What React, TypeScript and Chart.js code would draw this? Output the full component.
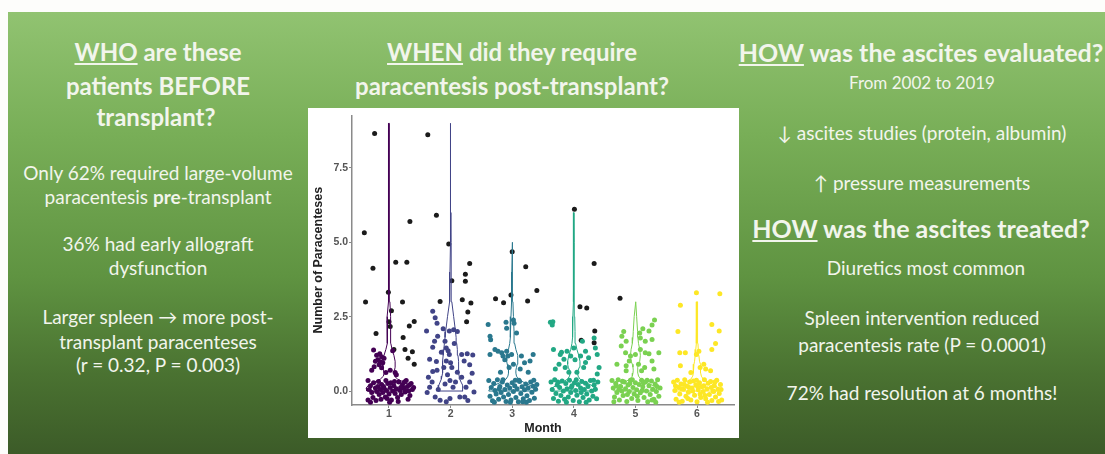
import React, { useEffect, useRef } from "react";
import { Chart, registerables } from "chart.js";

Chart.register(...registerables);

// ---------- data ----------
const MONTHS = [1, 2, 3, 4, 5, 6];
const MONTH_COLORS = ["#440154", "#414487", "#2A788E", "#22A884", "#7AD151", "#FDE725"];
const Y_TICKS = [0, 2.5, 5, 7.5];
const Y_TICK_LABELS = ["0.0", "2.5", "5.0", "7.5"];

// violin profile: y levels and half widths (x units) per month
const VIOLIN_Y = [0, 0.1, 0.2, 0.3, 0.4, 0.5, 0.6, 0.7, 0.8, 0.9, 1.0, 1.2, 1.4, 1.6, 1.8, 2.0, 2.5, 3, 3.5, 4, 5, 6, 7, 8, 9];
const VIOLIN_W1 = [0.36, 0.37, 0.33, 0.24, 0.14, 0.09, 0.08, 0.09, 0.1, 0.1, 0.1, 0.08, 0.05, 0.03, 0.025, 0.025, 0.03, 0.015, 0.01, 0.008, 0.006, 0.005, 0.005, 0.005, 0.003];
const VIOLIN_W2 = [0.2, 0.2, 0.19, 0.17, 0.15, 0.14, 0.13, 0.13, 0.13, 0.13, 0.13, 0.12, 0.11, 0.1, 0.09, 0.08, 0.05, 0.02, 0.012, 0.01, 0.007, 0.005, 0.004, 0.004, 0.003];
const VIOLIN_W3 = [0.38, 0.36, 0.28, 0.18, 0.1, 0.07, 0.06, 0.06, 0.07, 0.08, 0.09, 0.09, 0.06, 0.04, 0.03, 0.03, 0.02, 0.012, 0.008, 0.006, 0.003];
const VIOLIN_W4 = [0.36, 0.35, 0.28, 0.18, 0.1, 0.07, 0.06, 0.07, 0.09, 0.1, 0.1, 0.08, 0.05, 0.03, 0.02, 0.02, 0.015, 0.01, 0.008, 0.006, 0.004, 0.003];
const VIOLIN_W5 = [0.35, 0.34, 0.27, 0.17, 0.09, 0.05, 0.04, 0.035, 0.04, 0.05, 0.07, 0.08, 0.07, 0.05, 0.04, 0.035, 0.02, 0.005];
const VIOLIN_W6 = [0.36, 0.35, 0.28, 0.18, 0.1, 0.07, 0.06, 0.06, 0.06, 0.05, 0.04, 0.03, 0.02, 0.015, 0.012, 0.01, 0.008, 0.004];
const VIOLIN_WIDTHS = [VIOLIN_W1, VIOLIN_W2, VIOLIN_W3, VIOLIN_W4, VIOLIN_W5, VIOLIN_W6];

// jittered points [month + jitter, paracenteses + jitter]
const M1_POINTS = [
  [0.75, 1.38], [0.8, 1.2], [0.85, 1.25], [0.88, 1.15], [0.82, 1.05], [0.78, 1.0], [0.86, 0.98], [0.9, 0.95], [0.84, 0.88],
  [0.76, 0.82], [0.88, 0.78], [0.92, 1.1], [0.72, 0.7], [0.95, 0.62], [1.06, 1.35], [1.1, 0.62], [1.12, 0.55], [1.02, 0.7],
  [0.66, 0.35], [0.7, 0.18], [0.68, 0.05], [0.72, -0.05], [0.66, -0.3], [0.7, -0.38], [0.75, 0.28], [0.78, 0.1], [0.8, -0.02],
  [0.82, 0.15], [0.84, -0.12], [0.86, 0.05], [0.88, 0.22], [0.9, -0.05], [0.92, 0.1], [0.94, -0.2], [0.96, 0.02], [0.98, 0.25],
  [1.0, -0.1], [1.02, 0.12], [1.04, -0.3], [1.06, 0.0], [1.08, 0.18], [1.1, -0.08], [1.12, 0.08], [1.14, -0.22], [1.16, 0.3],
  [1.18, 0.02], [1.2, -0.12], [1.22, 0.22], [1.24, 0.1], [1.26, -0.03], [1.28, 0.35], [1.3, 0.15], [1.32, 0.0], [1.34, -0.15],
  [1.36, 0.25], [1.38, 0.05], [1.4, 0.12], [0.74, -0.22], [0.79, -0.32], [0.87, -0.28], [0.95, 0.35], [1.01, -0.38], [1.09, 0.32],
  [1.15, -0.35], [1.25, 0.3], [1.31, -0.28], [0.83, 0.32], [0.91, 0.15], [0.97, -0.25], [1.03, 0.28], [1.19, 0.12], [1.27, 0.02], [1.33, 0.2],
];
const M2_POINTS = [
  [1.71, 2.68], [1.75, 2.46], [1.78, 2.28], [1.61, 2.02], [1.88, 2.09], [1.98, 2.02], [2.05, 2.06], [2.11, 2.0], [1.79, 1.84],
  [1.74, 1.67], [1.71, 1.47], [1.91, 1.67], [1.93, 1.45], [1.98, 1.23], [1.93, 1.01], [2.18, 1.23], [2.27, 1.25], [2.36, 1.21],
  [2.22, 1.01], [2.31, 0.88], [1.66, 1.07], [1.77, 0.99], [1.71, 0.66], [1.78, 0.7], [1.89, 0.79], [2.02, 0.79], [1.99, 0.35],
  [1.91, 0.24], [2.04, 0.13], [1.64, 0.46], [1.66, 0.13], [1.75, -0.2], [1.83, -0.31], [1.93, -0.36], [1.99, -0.25], [2.18, 0.46],
  [2.25, 0.13], [2.31, 0.3], [2.23, -0.2], [2.38, -0.03], [2.11, 0.63], [2.15, -0.2], [1.96, 1.35], [2.0, 0.95], [1.85, 1.3],
  [1.7, 0.3], [1.8, 0.05], [2.08, 0.3], [2.28, -0.32], [1.95, 0.55], [2.06, 1.6], [1.62, -0.05], [2.35, 0.6],
];
const M3_POINTS = [
  [2.61, 2.24], [2.64, 1.84], [2.65, 1.72], [2.9, 2.31], [3.02, 2.39], [3.03, 2.28], [2.91, 2.11], [3.07, 1.95], [2.72, 1.4],
  [2.77, 1.34], [2.83, 1.29], [2.91, 1.34], [2.85, 1.18], [2.93, 1.18], [2.99, 1.23], [3.15, 1.18], [3.34, 1.23], [3.29, 1.01],
  [2.64, 1.23], [3.02, 0.9], [3.13, 0.74], [2.95, 0.79], [2.81, 0.63], [3.26, 0.63], [2.88, 1.05], [3.2, 0.95],
  [2.62, 0.35], [2.66, 0.12], [2.64, -0.18], [2.68, -0.33], [2.7, 0.25], [2.72, 0.02], [2.74, -0.1], [2.76, 0.38], [2.78, -0.28],
  [2.8, 0.15], [2.82, -0.05], [2.84, 0.3], [2.86, -0.2], [2.88, 0.05], [2.9, -0.35], [2.92, 0.2], [2.94, -0.12], [2.96, 0.1],
  [2.98, -0.3], [3.0, 0.28], [3.02, -0.02], [3.04, 0.18], [3.06, -0.22], [3.08, 0.08], [3.1, -0.36], [3.12, 0.32], [3.14, -0.08],
  [3.16, 0.14], [3.18, -0.26], [3.2, 0.04], [3.22, 0.24], [3.24, -0.16], [3.26, 0.1], [3.28, -0.32], [3.3, 0.3], [3.32, -0.04],
  [3.34, 0.16], [3.36, -0.24], [3.38, 0.06], [3.4, 0.22], [2.71, -0.38], [2.85, 0.38], [2.97, -0.38], [3.11, 0.36], [3.23, -0.38],
  [3.35, 0.36], [2.79, 0.08], [3.05, 0.36], [3.17, -0.36],
];
const M4_POINTS = [
  [3.62, 2.31], [3.66, 2.33], [3.65, 2.22], [4.14, 1.67], [4.33, 1.78], [4.35, 1.45], [4.38, 1.23], [3.67, 1.4], [3.78, 1.23],
  [3.84, 1.07], [3.89, 1.34], [3.95, 1.18], [4.0, 1.45], [4.11, 1.18], [4.19, 1.34], [4.24, 1.12], [3.76, 0.9], [3.7, 0.74],
  [3.86, 0.79], [3.92, 0.63], [4.16, 0.79], [4.05, 0.63], [4.19, 0.96], [4.38, 0.57], [4.41, 0.79], [3.8, 1.3], [4.02, 1.05],
  [3.63, 0.3], [3.65, 0.05], [3.67, -0.25], [3.69, 0.38], [3.71, -0.08], [3.73, 0.2], [3.75, -0.34], [3.77, 0.12], [3.79, -0.15],
  [3.81, 0.34], [3.83, 0.0], [3.85, -0.28], [3.87, 0.25], [3.89, 0.08], [3.91, -0.2], [3.93, 0.36], [3.95, -0.05], [3.97, 0.18],
  [3.99, -0.32], [4.01, 0.28], [4.03, 0.02], [4.05, -0.14], [4.07, 0.22], [4.09, -0.36], [4.11, 0.1], [4.13, 0.32], [4.15, -0.22],
  [4.17, 0.05], [4.19, 0.26], [4.21, -0.1], [4.23, 0.15], [4.25, -0.3], [4.27, 0.35], [4.29, 0.0], [4.31, -0.18], [4.33, 0.2],
  [4.35, 0.06], [4.37, -0.26], [4.39, 0.3], [3.74, 0.3], [3.88, -0.38], [4.04, 0.38], [4.2, -0.38], [4.32, 0.36], [3.96, 0.12], [4.12, -0.05],
];
const M5_POINTS = [
  [5.31, 2.39], [5.27, 2.22], [5.22, 2.02], [5.12, 2.09], [5.07, 1.95], [5.08, 1.78], [5.16, 1.67], [5.27, 1.73], [4.81, 2.0],
  [4.78, 1.84], [4.85, 1.67], [4.77, 1.51], [4.84, 1.29], [4.92, 1.18], [5.0, 1.23], [5.08, 1.4], [5.16, 1.29], [5.22, 1.25],
  [5.38, 1.29], [4.7, 0.9], [4.85, 0.85], [4.9, 1.01], [4.85, 0.68], [5.05, 0.9], [5.15, 0.79], [5.1, 0.68], [5.27, 1.01], [5.3, 0.74],
  [4.62, 0.35], [4.64, 0.1], [4.66, -0.2], [4.68, 0.25], [4.7, -0.05], [4.72, 0.38], [4.74, -0.3], [4.76, 0.15], [4.78, 0.0],
  [4.8, -0.15], [4.82, 0.3], [4.84, 0.08], [4.86, -0.35], [4.88, 0.2], [4.9, -0.02], [4.92, 0.36], [4.94, -0.25], [4.96, 0.12],
  [4.98, -0.1], [5.0, 0.28], [5.02, 0.04], [5.04, -0.32], [5.06, 0.22], [5.08, -0.06], [5.1, 0.36], [5.12, 0.14], [5.14, -0.22],
  [5.16, 0.3], [5.18, 0.0], [5.2, -0.36], [5.22, 0.18], [5.24, -0.12], [5.26, 0.34], [5.28, 0.06], [5.3, -0.28], [5.32, 0.24],
  [5.34, -0.02], [5.36, 0.38], [5.38, -0.18], [5.4, 0.1], [4.65, -0.36], [4.73, 0.05], [4.79, 0.33], [4.87, -0.12], [4.95, 0.38],
  [5.03, -0.18], [5.11, 0.02], [5.19, 0.36], [5.27, -0.3], [5.35, 0.15], [4.69, 0.18], [4.91, 0.25], [5.13, 0.28], [5.33, -0.38],
];
const M6_POINTS = [
  [5.99, 3.3], [5.73, 2.88], [6.37, 3.27], [5.69, 2.0], [6.24, 2.24], [6.36, 2.02], [6.24, 1.4], [5.72, 1.29], [5.81, 1.29],
  [5.99, 1.23], [6.03, 1.34], [5.73, 0.85], [6.05, 0.79], [6.14, 0.74], [6.22, 0.68], [6.11, 0.9], [6.3, 1.6], [5.9, 0.62],
  [5.62, 0.3], [5.64, 0.02], [5.66, -0.28], [5.68, 0.36], [5.7, 0.12], [5.72, -0.1], [5.74, 0.24], [5.76, -0.34], [5.78, 0.06],
  [5.8, 0.38], [5.82, -0.18], [5.84, 0.16], [5.86, -0.04], [5.88, 0.3], [5.9, -0.3], [5.92, 0.1], [5.94, 0.34], [5.96, -0.14],
  [5.98, 0.2], [6.0, -0.36], [6.02, 0.04], [6.04, 0.28], [6.06, -0.22], [6.08, 0.14], [6.1, -0.02], [6.12, 0.38], [6.14, -0.26],
  [6.16, 0.08], [6.18, 0.26], [6.2, -0.12], [6.22, 0.32], [6.24, -0.32], [6.26, 0.0], [6.28, 0.18], [6.3, -0.2], [6.32, 0.36],
  [6.34, 0.06], [6.36, -0.08], [6.38, 0.22], [6.4, -0.3], [5.65, 0.18], [5.71, -0.38], [5.79, 0.22], [5.85, -0.25], [5.93, 0.0],
  [5.99, 0.36], [6.05, -0.1], [6.11, 0.18], [6.17, -0.38], [6.23, 0.12], [6.29, 0.3], [6.35, -0.35], [5.75, 0.08], [5.87, 0.12],
  [6.01, 0.15], [6.13, -0.15], [6.27, -0.02], [6.39, 0.05],
];
const MONTH_POINTS = [M1_POINTS, M2_POINTS, M3_POINTS, M4_POINTS, M5_POINTS, M6_POINTS];

// outlying points (drawn black)
const OUTLIER_POINTS = [
  [0.767, 8.66], [0.6, 5.32], [0.74, 4.13], [0.62, 2.99], [0.79, 1.93], [1.11, 4.33], [1.29, 4.33], [1.34, 5.7], [1.22, 2.99],
  [1.41, 2.34], [1.33, 2.19], [1.23, 1.8], [0.99, 3.32], [1.04, 2.7], [1.0, 2.33], [1.02, 2.17], [1.26, 1.4], [1.38, 1.32],
  [1.41, 0.9], [1.31, 1.1], [1.08, 1.4],
  [1.63, 8.62], [1.77, 5.91], [1.97, 4.94], [2.02, 3.71], [2.31, 4.29], [2.24, 3.93], [2.24, 3.69], [1.83, 3.01], [2.19, 3.07],
  [2.33, 2.96], [2.28, 2.66], [2.26, 2.33],
  [3.0, 4.68], [3.22, 4.18], [3.4, 3.38], [3.25, 3.03], [2.73, 3.1], [2.86, 2.97], [2.98, 3.23],
  [4.01, 6.11], [4.33, 4.29], [4.1, 2.83], [4.21, 2.79], [4.12, 1.71], [4.34, 2.02], [4.33, 1.62],
  [4.75, 3.12],
];

// ---------- text ----------
const LEFT_HEAD = ["are these", "patients BEFORE", "transplant?"];
const LEFT_BODY = [
  "Only 62% required large-volume",
  "36% had early allograft",
  "dysfunction",
  "Larger spleen \u2192 more post-",
  "transplant paracenteses",
  "(r = 0.32, P = 0.003)",
];

const FONT = "Lato, 'Open Sans', sans-serif";
const TXT = "#f2f5ec";
const AXIS_FONT = "'Liberation Sans', Arial, sans-serif";

function T(props: { cx: number; cy: number; size: number; bold?: boolean; children: any }) {
  const { cx, cy, size, bold, children } = props;
  return (
    <div
      style={{
        position: "absolute",
        left: cx - 300,
        width: 600,
        top: cy - size * 0.62,
        lineHeight: `${Math.round(size * 1.24)}px`,
        fontSize: size,
        fontWeight: bold ? 700 : 400,
        textAlign: "center",
        whiteSpace: "nowrap",
        color: TXT,
        fontFamily: FONT,
      }}
    >
      {children}
    </div>
  );
}

function ViolinChart() {
  const ref = useRef<HTMLCanvasElement | null>(null);
  useEffect(() => {
    if (!ref.current) return;
    const datasets: any[] = [];
    MONTHS.forEach((m, i) => {
      const w = VIOLIN_WIDTHS[i];
      const right = w.map((wi, k) => ({ x: m + wi, y: VIOLIN_Y[k] }));
      const left = w.map((wi, k) => ({ x: m - wi, y: VIOLIN_Y[k] })).reverse();
      datasets.push({
        type: "scatter",
        data: [...right, ...left, right[0]],
        showLine: true,
        borderColor: MONTH_COLORS[i],
        borderWidth: 1,
        pointRadius: 0,
        fill: false,
        tension: 0,
      });
    });
    MONTHS.forEach((m, i) => {
      datasets.push({
        type: "scatter",
        data: MONTH_POINTS[i].map(([x, y]) => ({ x, y })),
        backgroundColor: MONTH_COLORS[i],
        borderWidth: 0,
        pointRadius: 2.5,
      });
    });
    datasets.push({
      type: "scatter",
      data: OUTLIER_POINTS.map(([x, y]) => ({ x, y })),
      backgroundColor: "#1b1b1b",
      borderWidth: 0,
      pointRadius: 2.5,
    });

    const chart = new Chart(ref.current, {
      type: "scatter",
      data: { datasets },
      options: {
        animation: false,
        responsive: false,
        events: [],
        layout: { padding: { top: 2, right: 5, left: 0, bottom: 0 } },
        plugins: { legend: { display: false }, tooltip: { enabled: false } },
        scales: {
          x: {
            type: "linear",
            min: 0.4,
            max: 6.6,
            afterFit: (s: any) => {
              s.height = 33;
            },
            afterBuildTicks: (s: any) => {
              s.ticks = MONTHS.map((v) => ({ value: v }));
            },
            ticks: {
              callback: (v: any) => String(v),
              color: "#555",
              padding: 0,
              maxRotation: 0,
              font: { family: AXIS_FONT, size: 10.5, weight: "bold" },
            },
            grid: { drawOnChartArea: false, drawTicks: true, tickLength: 3, color: "#888", lineWidth: 1 },
            border: { display: true, color: "#8a8a8a", width: 1.5 },
            title: {
              display: true,
              text: "Month",
              color: "#222",
              padding: { top: 0, bottom: 2 },
              font: { family: AXIS_FONT, size: 12.5, weight: "bold" },
            },
          },
          y: {
            type: "linear",
            min: -0.47,
            max: 9.27,
            afterFit: (s: any) => {
              s.width = 44;
            },
            afterBuildTicks: (s: any) => {
              s.ticks = Y_TICKS.map((v) => ({ value: v }));
            },
            ticks: {
              callback: (v: any) => Y_TICK_LABELS[Y_TICKS.indexOf(v)] ?? "",
              color: "#555",
              padding: 1,
              font: { family: AXIS_FONT, size: 10.5, weight: "bold" },
            },
            grid: { drawOnChartArea: false, drawTicks: true, tickLength: 3, color: "#888", lineWidth: 1 },
            border: { display: true, color: "#8a8a8a", width: 1.5 },
            title: {
              display: true,
              text: "Number of Paracenteses",
              color: "#222",
              padding: { top: 3, bottom: 0 },
              font: { family: AXIS_FONT, size: 12.5, weight: "bold" },
            },
          },
        },
      } as any,
    });
    return () => chart.destroy();
  }, []);
  return <canvas ref={ref} width={431} height={330} style={{ display: "block" }} />;
}

export default function App() {
  return (
    <div
      style={{
        position: "absolute",
        left: 0,
        top: 0,
        width: 1105,
        height: 454,
        overflow: "hidden",
        background: "#fdfdfb",
      }}
    >
      <div
        style={{
          position: "absolute",
          left: 8,
          top: 12,
          width: 1097,
          height: 442,
          background: "linear-gradient(180deg, #91c371 0%, #78ae57 28%, #5f9341 60%, #4a7231 82%, #3c5b28 100%)",
        }}
      />
      {/* left column */}
      <T cx={158} cy={52} size={24} bold>
        <span style={{ textDecoration: "underline" }}>WHO</span> {LEFT_HEAD[0]}
      </T>
      <T cx={158} cy={86} size={24} bold>{LEFT_HEAD[1]}</T>
      <T cx={156} cy={117} size={24} bold>{LEFT_HEAD[2]}</T>
      <T cx={158} cy={173} size={19}>{LEFT_BODY[0]}</T>
      <T cx={158} cy={197} size={19}>
        paracentesis <b>pre</b>-transplant
      </T>
      <T cx={158} cy={244} size={19}>{LEFT_BODY[1]}</T>
      <T cx={158} cy={268} size={19}>{LEFT_BODY[2]}</T>
      <T cx={158} cy={317} size={19}>{LEFT_BODY[3]}</T>
      <T cx={158} cy={342} size={19}>{LEFT_BODY[4]}</T>
      <T cx={158} cy={365} size={19}>{LEFT_BODY[5]}</T>

      {/* centre column */}
      <T cx={512} cy={52} size={24} bold>
        <span style={{ textDecoration: "underline" }}>WHEN</span> did they require
      </T>
      <T cx={512} cy={86} size={24} bold>paracentesis post-transplant?</T>

      {/* right column */}
      <T cx={921} cy={52} size={25} bold>
        <span style={{ textDecoration: "underline" }}>HOW</span> was the ascites evaluated?
      </T>
      <T cx={922} cy={83} size={17}>From 2002 to 2019</T>
      <T cx={922} cy={133} size={19}>{"\u2193 ascites studies (protein, albumin)"}</T>
      <T cx={922} cy={183} size={19}>{"\u2191 pressure measurements"}</T>
      <T cx={921} cy={228} size={25} bold>
        <span style={{ textDecoration: "underline" }}>HOW</span> was the ascites treated?
      </T>
      <T cx={926} cy={268} size={19}>Diuretics most common</T>
      <T cx={922} cy={318} size={19}>Spleen intervention reduced</T>
      <T cx={922} cy={345} size={19}>paracentesis rate (P = 0.0001)</T>
      <T cx={922} cy={393} size={19}>72% had resolution at 6 months!</T>

      <div
        style={{
          position: "absolute",
          left: 308,
          top: 108,
          width: 431,
          height: 330,
          background: "#ffffff",
        }}
      >
        <ViolinChart />
      </div>
    </div>
  );
}
